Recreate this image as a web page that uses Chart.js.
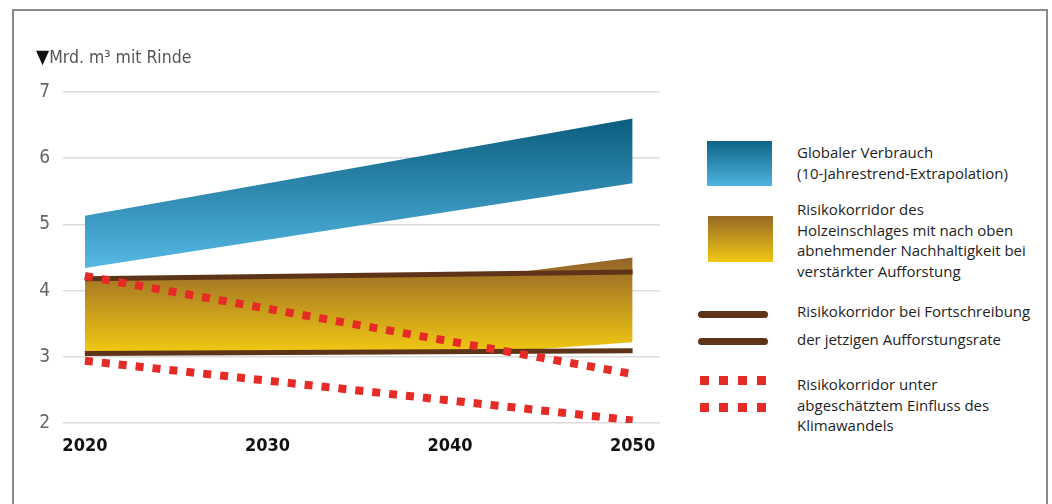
<!DOCTYPE html>
<html>
<head>
<meta charset="utf-8">
<script src="https://cdn.jsdelivr.net/npm/chart.js@4"></script>
<style>
  body { margin: 0; background: #fff; }
  #frame {
    position: absolute; left: 12px; top: 9px; width: 1032px; height: 500px;
    border: 2px solid #8a8a8a; border-bottom: none;
  }
  #wrap { position: absolute; left: 0; top: 0; width: 680px; height: 504px; }
  #unit {
    position: absolute; left: 36px; top: 45px;
    font: 17.5px "DejaVu Sans", sans-serif; font-stretch: condensed; color: #555;
  }
  #unit b { color: #111; font-weight: normal; font-size: 19px; }
  .leg { position: absolute; left: 797px; font: 15px "Open Sans", sans-serif; color: #1e1e1e; line-height: 20.5px; }
  .sw { position: absolute; }
  .brown { position: absolute; left: 698px; width: 70px; height: 7px; background: #5e3418; border-radius: 4px; }
  .reds { position: absolute; left: 700px; width: 70px; height: 9px;
    background: repeating-linear-gradient(90deg, #e52b25 0 9px, transparent 9px 19px); }
</style>
</head>
<body>
<div id="frame"></div>
<div id="wrap"><canvas id="myChart"></canvas></div>
<div id="unit"><b>▼</b>Mrd. m³ mit Rinde</div>

<div class="sw" style="left:707px;top:141px;width:65px;height:45px;background:linear-gradient(#0d6486,#4fb4e0);"></div>
<div class="leg" style="top:142px;">Globaler Verbrauch<br>(10-Jahrestrend-Extrapolation)</div>

<div class="sw" style="left:708px;top:216px;width:65px;height:46px;background:linear-gradient(#976826,#f0c814);"></div>
<div class="leg" style="top:199px;">Risikokorridor des<br>Holzeinschlages mit nach oben<br>abnehmender Nachhaltigkeit bei<br>verstärkter Aufforstung</div>

<div class="brown" style="top:311px;"></div>
<div class="brown" style="top:338px;"></div>
<div class="leg" style="top:301px;">Risikokorridor bei Fortschreibung</div>
<div class="leg" style="top:329px;">der jetzigen Aufforstungsrate</div>

<div class="reds" style="top:376px;"></div>
<div class="reds" style="top:403px;"></div>
<div class="leg" style="top:374px;">Risikokorridor unter<br>abgeschätztem Einfluss des<br>Klimawandels</div>

<script>
// years and values (Mrd. m³ mit Rinde)
const xTicks = [2020, 2030, 2040, 2050];

const verbrauchYears = [2020, 2050];
const verbrauchLow = [4.34, 5.62];
const verbrauchHigh = [5.13, 6.6];

const holzYears = [2020, 2043, 2050];
const holzLow = [3.05, 3.08, 3.22];
const holzHigh = [4.2, 4.25, 4.5];

const fortYears = [2020, 2050];
const fortHigh = [4.18, 4.28];
const fortLow = [3.05, 3.09];

const klimaYears = [2020, 2050];
const klimaHigh = [4.22, 2.74];
const klimaLow = [2.94, 2.04];

function pts(xs, ys) {
    return xs.map((x, i) => ({ x: x, y: ys[i] }));
}

function vGradient(context, topVal, botVal, c1, c2) {
    const chart = context.chart;
    if (!chart.chartArea) return c1;
    const yScale = chart.scales.y;
    const g = chart.ctx.createLinearGradient(0, yScale.getPixelForValue(topVal), 0, yScale.getPixelForValue(botVal));
    g.addColorStop(0, c1);
    g.addColorStop(1, c2);
    return g;
}

const blueFill = (c) => vGradient(c, 6.6, 4.34, "#0b5d7e", "#55b8e4");
const goldFill = (c) => vGradient(c, 4.5, 3.05, "#93632a", "#f2ca12");

// chart.js draws the first dataset on top, so the lines come first
var ctx = document.getElementById("myChart").getContext("2d");
var myChart = new Chart(ctx, {
    type: "line",
    data: {
        datasets: [
            {
                label: "Klima oben",
                data: pts(klimaYears, klimaHigh),
                borderColor: "#e52b25",
                borderWidth: 8,
                borderDash: [8, 9],
                pointRadius: 0,
                fill: false,
            },
            {
                label: "Klima unten",
                data: pts(klimaYears, klimaLow),
                borderColor: "#e52b25",
                borderWidth: 8,
                borderDash: [8, 9],
                pointRadius: 0,
                fill: false,
            },
            {
                label: "Fortschreibung oben",
                data: pts(fortYears, fortHigh),
                borderColor: "#5e3418",
                borderWidth: 5,
                pointRadius: 0,
                fill: false,
            },
            {
                label: "Fortschreibung unten",
                data: pts(fortYears, fortLow),
                borderColor: "#5e3418",
                borderWidth: 5,
                pointRadius: 0,
                fill: false,
            },
            {
                label: "Holz unten",
                data: pts(holzYears, holzLow),
                borderWidth: 0,
                pointRadius: 0,
                fill: false,
            },
            {
                label: "Risikokorridor Holzeinschlag",
                data: pts(holzYears, holzHigh),
                borderWidth: 0,
                pointRadius: 0,
                fill: "-1",
                backgroundColor: goldFill,
            },
            {
                label: "Verbrauch unten",
                data: pts(verbrauchYears, verbrauchLow),
                borderWidth: 0,
                pointRadius: 0,
                fill: false,
            },
            {
                label: "Globaler Verbrauch",
                data: pts(verbrauchYears, verbrauchHigh),
                borderWidth: 0,
                pointRadius: 0,
                fill: "-1",
                backgroundColor: blueFill,
            },
        ],
    },
    options: {
        responsive: true,
        maintainAspectRatio: false,
        animation: false,
        layout: { padding: { top: 92, left: 0, right: 20, bottom: 0 } },
        plugins: { legend: { display: false }, tooltip: { enabled: false } },
        scales: {
            x: {
                type: "linear",
                min: 2018.8,
                max: 2051.5,
                afterBuildTicks: (axis) => {
                    axis.ticks = xTicks.map((v) => ({ value: v }));
                },
                afterFit: (axis) => {
                    axis.height = 81;
                },
                grid: { display: false },
                border: { display: false },
                ticks: {
                    padding: 5,
                    color: "#111",
                    font: { family: "'DejaVu Sans Condensed', 'DejaVu Sans', sans-serif", size: 18, weight: "bold" },
                    callback: (v) => String(v),
                },
            },
            y: {
                min: 2,
                max: 7,
                afterFit: (axis) => {
                    axis.width = 63;
                },
                grid: { color: "#dcdcdc", lineWidth: 1.5, drawTicks: false },
                border: { display: false },
                ticks: {
                    stepSize: 1,
                    padding: 13,
                    color: "#666",
                    font: { family: "'DejaVu Sans Condensed', 'DejaVu Sans', sans-serif", size: 19 },
                },
            },
        },
    },
});
</script>
</body>
</html>
